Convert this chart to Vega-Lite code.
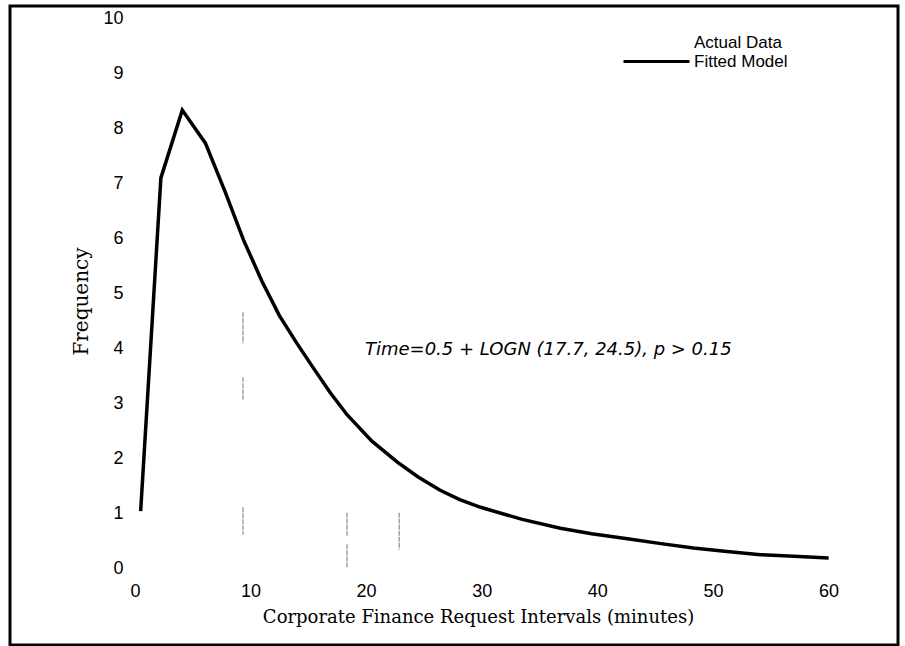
{
  "$schema": "https://vega.github.io/schema/vega-lite/v6.json",
  "width": 888,
  "height": 639,
  "autosize": {"type": "none"},
  "padding": {"left": 10, "top": 6, "right": 7, "bottom": 1},
  "background": "white",
  "config": {
    "view": {"stroke": "black", "strokeWidth": 3},
    "font": "Liberation Sans"
  },
  "datasets": {
    "curve": [
      {"minutes": 0.5, "frequency": 1.05, "series": "Fitted Model"},
      {"minutes": 2.25, "frequency": 7.1, "series": "Fitted Model"},
      {"minutes": 4.1, "frequency": 8.33, "series": "Fitted Model"},
      {"minutes": 6.1, "frequency": 7.73, "series": "Fitted Model"},
      {"minutes": 7.8, "frequency": 6.85, "series": "Fitted Model"},
      {"minutes": 9.4, "frequency": 5.97, "series": "Fitted Model"},
      {"minutes": 11, "frequency": 5.22, "series": "Fitted Model"},
      {"minutes": 12.5, "frequency": 4.6, "series": "Fitted Model"},
      {"minutes": 14, "frequency": 4.1, "series": "Fitted Model"},
      {"minutes": 15.4, "frequency": 3.66, "series": "Fitted Model"},
      {"minutes": 16.9, "frequency": 3.2, "series": "Fitted Model"},
      {"minutes": 18.35, "frequency": 2.8, "series": "Fitted Model"},
      {"minutes": 20.5, "frequency": 2.32, "series": "Fitted Model"},
      {"minutes": 22.7, "frequency": 1.94, "series": "Fitted Model"},
      {"minutes": 24.5, "frequency": 1.67, "series": "Fitted Model"},
      {"minutes": 26.4, "frequency": 1.43, "series": "Fitted Model"},
      {"minutes": 28.1, "frequency": 1.26, "series": "Fitted Model"},
      {"minutes": 29.9, "frequency": 1.12, "series": "Fitted Model"},
      {"minutes": 33.5, "frequency": 0.9, "series": "Fitted Model"},
      {"minutes": 36.8, "frequency": 0.74, "series": "Fitted Model"},
      {"minutes": 39.5, "frequency": 0.64, "series": "Fitted Model"},
      {"minutes": 42.6, "frequency": 0.55, "series": "Fitted Model"},
      {"minutes": 45.5, "frequency": 0.46, "series": "Fitted Model"},
      {"minutes": 48.3, "frequency": 0.38, "series": "Fitted Model"},
      {"minutes": 51, "frequency": 0.32, "series": "Fitted Model"},
      {"minutes": 54.1, "frequency": 0.26, "series": "Fitted Model"},
      {"minutes": 57, "frequency": 0.23, "series": "Fitted Model"},
      {"minutes": 60, "frequency": 0.2, "series": "Fitted Model"}
    ],
    "bars": [
      {"minutes": 9.35, "top": 4.66, "bottom": 4.1, "series": "Actual Data"},
      {"minutes": 9.35, "top": 3.48, "bottom": 3.07, "series": "Actual Data"},
      {"minutes": 9.35, "top": 1.12, "bottom": 0.62, "series": "Actual Data"},
      {"minutes": 18.35, "top": 1.02, "bottom": 0.58, "series": "Actual Data"},
      {"minutes": 18.35, "top": 0.45, "bottom": 0.02, "series": "Actual Data"},
      {"minutes": 22.86, "top": 1.02, "bottom": 0.35, "series": "Actual Data"}
    ],
    "note": [
      {"label": "Time=0.5 + LOGN (17.7, 24.5), p > 0.15"}
    ]
  },
  "layer": [
    {
      "data": {"name": "bars"},
      "mark": {"type": "rule", "strokeWidth": 1.2, "strokeDash": [5, 1]},
      "encoding": {
        "x": {"field": "minutes", "type": "quantitative"},
        "y": {"field": "top", "type": "quantitative"},
        "y2": {"field": "bottom"},
        "color": {"field": "series", "type": "nominal"}
      }
    },
    {
      "data": {"name": "curve"},
      "mark": {"type": "line", "strokeWidth": 3.5, "strokeJoin": "miter"},
      "encoding": {
        "x": {
          "field": "minutes",
          "type": "quantitative",
          "scale": {"domain": [-10.8, 66.0], "nice": false, "zero": false},
          "axis": {
            "values": [0, 10, 20, 30, 40, 50, 60],
            "orient": "bottom",
            "offset": -63,
            "domain": false,
            "ticks": false,
            "tickSize": 0,
            "grid": false,
            "labelPadding": 0,
            "labelFont": "Liberation Sans",
            "labelFontSize": 18,
            "labelColor": "black",
            "labelBaseline": "top",
            "labelFlush": false,
            "title": "Corporate Finance Request Intervals (minutes)",
            "titleFont": "DejaVu Serif",
            "titleFontSize": 18,
            "titleFontWeight": "normal",
            "titleColor": "black",
            "titleX": 468,
            "titleY": 40,
            "titleAlign": "center",
            "titleBaseline": "alphabetic"
          }
        },
        "y": {
          "field": "frequency",
          "type": "quantitative",
          "scale": {"domain": [-1.38, 10.22], "nice": false, "zero": false},
          "axis": {
            "values": [0, 1, 2, 3, 4, 5, 6, 7, 8, 9, 10],
            "orient": "left",
            "offset": -115,
            "domain": false,
            "ticks": false,
            "tickSize": 0,
            "grid": false,
            "labelPadding": 2,
            "labelFont": "Liberation Sans",
            "labelFontSize": 18,
            "labelColor": "black",
            "labelFlush": false,
            "title": "Frequency",
            "titleFont": "DejaVu Serif",
            "titleFontSize": 20,
            "titleFontWeight": "normal",
            "titleColor": "black",
            "titleAngle": -90,
            "titleX": -38,
            "titleY": 295,
            "titleAlign": "center",
            "titleBaseline": "alphabetic"
          }
        },
        "color": {
          "field": "series",
          "type": "nominal",
          "scale": {"domain": ["Actual Data", "Fitted Model"], "range": ["#8c8c8c", "black"]},
          "legend": {
            "title": null,
            "orient": "none",
            "legendX": 612,
            "legendY": 27,
            "padding": 0,
            "symbolType": "stroke",
            "symbolSize": 4356,
            "symbolStrokeWidth": 3,
            "clipHeight": 19,
            "rowPadding": 0,
            "labelOffset": 3,
            "labelFont": "Liberation Sans",
            "labelFontSize": 17,
            "labelColor": "black",
            "encode": {
              "symbols": {
                "update": {
                  "strokeOpacity": [
                    {"test": "datum.label === 'Actual Data'", "value": 0},
                    {"value": 1}
                  ]
                }
              }
            }
          }
        }
      }
    },
    {
      "data": {"name": "note"},
      "mark": {
        "type": "text",
        "align": "left",
        "baseline": "middle",
        "fontStyle": "italic",
        "fontSize": 18,
        "font": "DejaVu Sans",
        "color": "black"
      },
      "encoding": {
        "x": {"datum": 19.9, "type": "quantitative"},
        "y": {"datum": 3.97, "type": "quantitative"},
        "text": {"field": "label", "type": "nominal"}
      }
    }
  ]
}
